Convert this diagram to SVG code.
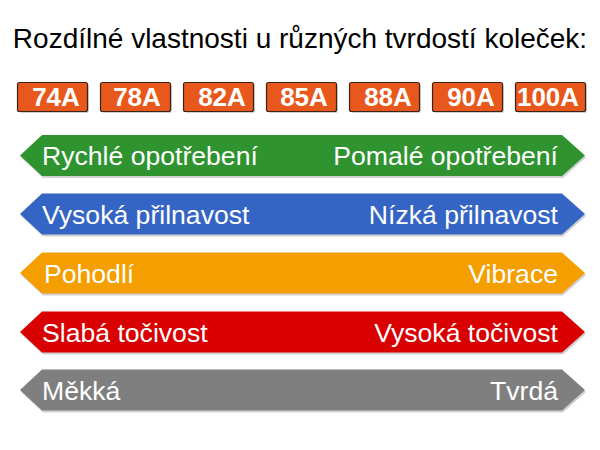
<svg xmlns="http://www.w3.org/2000/svg" width="600" height="450" viewBox="0 0 600 450">
<defs>
<style>
.title{font-family:"Liberation Sans",Arial,sans-serif;font-size:28px;fill:#000}
.badge rect.b{fill:#E8581C;stroke:#3a2418;stroke-width:1.2}
.badge text{font-family:"Liberation Sans",Arial,sans-serif;font-size:26px;font-weight:bold;fill:#fff;text-anchor:middle}
.band text{font-family:"Liberation Sans",Arial,sans-serif;font-size:26.6px;fill:#fff}
.band text.r{text-anchor:end}
.sh{fill:#000;opacity:0.18}
</style>
<path id="arrow" d="M20,0 L42,-20.5 L562,-20.5 L585,0 L562,20.5 L42,20.5 Z"/>
</defs>
<rect width="600" height="450" fill="#fff"/>
<text class="title" x="300" y="48" text-anchor="middle">Rozdílné vlastnosti u různých tvrdostí koleček:</text>

<g id="badge-74A" class="badge"><rect class="sh" x="19" y="84" width="70" height="29" rx="2"/><rect class="b" x="17.5" y="82.5" width="70" height="29" rx="2"/><text x="56" y="105.5">74A</text></g>
<g id="badge-78A" class="badge"><rect class="sh" x="102" y="84" width="70" height="29" rx="2"/><rect class="b" x="100.5" y="82.5" width="70" height="29" rx="2"/><text x="137" y="105.5">78A</text></g>
<g id="badge-82A" class="badge"><rect class="sh" x="185" y="84" width="70" height="29" rx="2"/><rect class="b" x="183.5" y="82.5" width="70" height="29" rx="2"/><text x="222" y="105.5">82A</text></g>
<g id="badge-85A" class="badge"><rect class="sh" x="268" y="84" width="70" height="29" rx="2"/><rect class="b" x="266.5" y="82.5" width="70" height="29" rx="2"/><text x="304" y="105.5">85A</text></g>
<g id="badge-88A" class="badge"><rect class="sh" x="351" y="84" width="70" height="29" rx="2"/><rect class="b" x="349.5" y="82.5" width="70" height="29" rx="2"/><text x="388" y="105.5">88A</text></g>
<g id="badge-90A" class="badge"><rect class="sh" x="434" y="84" width="70" height="29" rx="2"/><rect class="b" x="432.5" y="82.5" width="70" height="29" rx="2"/><text x="471" y="105.5">90A</text></g>
<g id="badge-100A" class="badge"><rect class="sh" x="517" y="84" width="70" height="29" rx="2"/><rect class="b" x="515.5" y="82.5" width="70" height="29" rx="2"/><text x="548" y="105.5" textLength="62" lengthAdjust="spacingAndGlyphs">100A</text></g>

<g id="band-wear" class="band"><use href="#arrow" x="1" y="157.5" class="sh"/><use href="#arrow" y="155.5" fill="#2F9330"/><text x="42" y="165">Rychlé opotřebení</text><text class="r" x="558" y="165">Pomalé opotřebení</text></g>
<g id="band-grip" class="band"><use href="#arrow" x="1" y="216" class="sh"/><use href="#arrow" y="214" fill="#3565C4"/><text x="42" y="223.5">Vysoká přilnavost</text><text class="r" x="558" y="223.5">Nízká přilnavost</text></g>
<g id="band-comfort" class="band"><use href="#arrow" x="1" y="275" class="sh"/><use href="#arrow" y="273" fill="#F49E00"/><text x="44" y="282.5">Pohodlí</text><text class="r" x="558" y="282.5">Vibrace</text></g>
<g id="band-spin" class="band"><use href="#arrow" x="1" y="334" class="sh"/><use href="#arrow" y="332" fill="#D80000"/><text x="42" y="341.5">Slabá točivost</text><text class="r" x="558" y="341.5">Vysoká točivost</text></g>
<g id="band-hard" class="band"><use href="#arrow" x="1" y="392" class="sh"/><use href="#arrow" y="390" fill="#7F7F7F"/><text x="42" y="399.5">Měkká</text><text class="r" x="558" y="399.5">Tvrdá</text></g>
</svg>
